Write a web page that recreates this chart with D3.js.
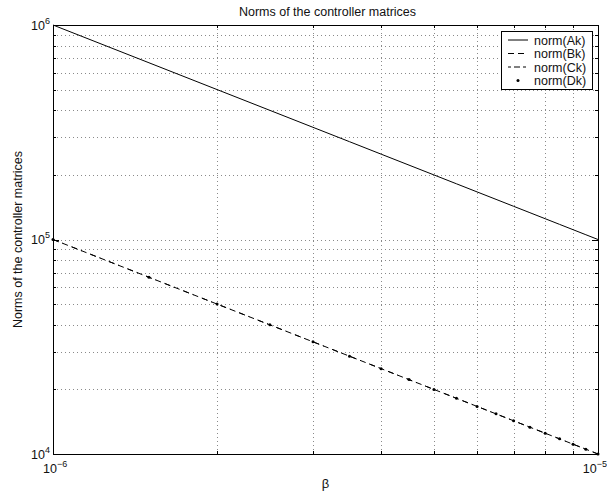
<!DOCTYPE html>
<html>
<head>
<meta charset="utf-8">
<script src="https://cdn.jsdelivr.net/npm/d3@7"></script>
<style>
  body { margin: 0; background: #fff; }
  svg { display: block; font-family: "Liberation Sans", Arial, Helvetica, sans-serif; }
</style>
</head>
<body>
<svg id="chart" width="607" height="494"></svg>
<script>
// Sample points of the design parameter beta
const beta = [1e-6, 1.5e-6, 2e-6, 2.5e-6, 3e-6, 3.5e-6, 4e-6, 4.5e-6, 5e-6, 5.5e-6,
              6e-6, 6.5e-6, 7e-6, 7.5e-6, 8e-6, 8.5e-6, 9e-6, 9.5e-6, 1e-5];

// Norms of the controller matrices at each beta
const normAk = [1000000, 666667, 500000, 400000, 333333, 285714, 250000, 222222, 200000, 181818,
                166667, 153846, 142857, 133333, 125000, 117647, 111111, 105263, 100000];
const normBk = [100000, 66667, 50000, 40000, 33333, 28571, 25000, 22222, 20000, 18182,
                16667, 15385, 14286, 13333, 12500, 11765, 11111, 10526, 10000];
const normCk = [100000, 66667, 50000, 40000, 33333, 28571, 25000, 22222, 20000, 18182,
                16667, 15385, 14286, 13333, 12500, 11765, 11111, 10526, 10000];
const normDk = [100000, 66667, 50000, 40000, 33333, 28571, 25000, 22222, 20000, 18182,
                16667, 15385, 14286, 13333, 12500, 11765, 11111, 10526, 10000];

const seriesNames = ["norm(Ak)", "norm(Bk)", "norm(Ck)", "norm(Dk)"];

// Axis tick values (decades) and their exponents
const xMajor = [1e-6, 1e-5];
const xMajorExp = ["-6", "-5"];
const yMajor = [1e4, 1e5, 1e6];
const yMajorExp = ["4", "5", "6"];

const title = "Norms of the controller matrices";
const xLabel = "β";
const yLabel = "Norms of the controller matrices";

const FS = 12.5;
const svg = d3.select("#chart");
const m = { left: 53, right: 598, top: 25, bottom: 454 };

const x = d3.scaleLog().domain([1e-6, 1e-5]).range([m.left, m.right]);
const y = d3.scaleLog().domain([1e4, 1e6]).range([m.bottom, m.top]);

const xMinor = x.ticks().filter(v => !xMajor.some(t => Math.abs(t - v) / t < 1e-9));
const yMinor = y.ticks().filter(v => !yMajor.some(t => Math.abs(t - v) / t < 1e-9));

// Dotted grid at every decade and sub-decade
const grid = svg.append("g").attr("stroke", "#8a8a8a").attr("stroke-width", 1)
  .attr("stroke-dasharray", "1,3");
x.ticks().forEach(v => {
  const px = Math.round(x(v)) + 0.5;
  if (v > 1e-6 && v < 1e-5)
    grid.append("line").attr("x1", px).attr("x2", px).attr("y1", m.top).attr("y2", m.bottom);
});
y.ticks().forEach(v => {
  const py = Math.round(y(v)) + 0.5;
  if (v > 1e4 && v < 1e6)
    grid.append("line").attr("x1", m.left).attr("x2", m.right).attr("y1", py).attr("y2", py);
});

// Ticks pointing inward on all four sides
const ticks = svg.append("g").attr("stroke", "#000").attr("stroke-width", 1);
function xTick(v, len) {
  const px = Math.round(x(v)) + 0.5;
  ticks.append("line").attr("x1", px).attr("x2", px).attr("y1", m.bottom).attr("y2", m.bottom - len);
  ticks.append("line").attr("x1", px).attr("x2", px).attr("y1", m.top).attr("y2", m.top + len);
}
function yTick(v, len) {
  const py = Math.round(y(v)) + 0.5;
  ticks.append("line").attr("x1", m.left).attr("x2", m.left + len).attr("y1", py).attr("y2", py);
  ticks.append("line").attr("x1", m.right).attr("x2", m.right - len).attr("y1", py).attr("y2", py);
}
xMinor.forEach(v => xTick(v, 3));
xMajor.forEach(v => xTick(v, 6));
yMinor.forEach(v => yTick(v, 3));
yMajor.forEach(v => yTick(v, 6));

// Data lines (the dash-dot pattern of Ck shares the period of the Bk dashes)
const line = d3.line().x((d, i) => x(beta[i])).y(d => y(d));
const plot = svg.append("g").attr("fill", "none").attr("stroke", "#000").attr("stroke-width", 1);
plot.append("path").attr("d", line(normAk));
plot.append("path").attr("d", line(normBk)).attr("stroke-dasharray", "6,4");
plot.append("path").attr("d", line(normCk)).attr("stroke-dasharray", "6,4,1,9");
svg.append("g").selectAll("circle").data(normDk).join("circle")
  .attr("cx", (d, i) => x(beta[i])).attr("cy", d => y(d)).attr("r", 1.5).attr("fill", "#000");

// Axes box
svg.append("rect").attr("x", m.left + 0.5).attr("y", m.top + 0.5)
  .attr("width", m.right - m.left).attr("height", m.bottom - m.top)
  .attr("fill", "none").attr("stroke", "#000").attr("stroke-width", 1);

// Tick labels with superscript exponents
function powLabel(g, px, py, exp, anchor) {
  const t = g.append("text").attr("x", px).attr("y", py).attr("font-size", FS)
    .attr("text-anchor", anchor).attr("fill", "#111");
  t.append("tspan").text("10");
  t.append("tspan").attr("font-size", 9).attr("dy", -6).text(exp.replace("-", "\u2212"));
}
const labels = svg.append("g");
yMajor.forEach((v, i) => powLabel(labels, m.left - 3, y(v) + 4.5, yMajorExp[i], "end"));
powLabel(labels, x(xMajor[0]) - 10, m.bottom + 19, xMajorExp[0], "start");
powLabel(labels, 607, m.bottom + 19, xMajorExp[1], "end");

// Titles
svg.append("text").attr("x", (m.left + m.right) / 2 + 2).attr("y", 16).attr("text-anchor", "middle")
  .attr("font-size", FS).attr("fill", "#111").text(title);
svg.append("text").attr("x", (m.left + m.right) / 2).attr("y", 488).attr("text-anchor", "middle")
  .attr("font-size", 13).attr("fill", "#111").text(xLabel);
svg.append("text").attr("transform", `translate(22,${(m.top + m.bottom) / 2}) rotate(-90)`)
  .attr("text-anchor", "middle").attr("font-size", FS).attr("fill", "#111").text(yLabel);

// Legend
const lg = svg.append("g");
lg.append("rect").attr("x", 501.5).attr("y", 31.5).attr("width", 91).attr("height", 58)
  .attr("fill", "#fff").attr("stroke", "#000").attr("stroke-width", 1);
const dashes = [null, "6,4", "3,3,6,3", null];
seriesNames.forEach((name, i) => {
  const cy = 40 + i * 13.5;
  if (i < 3) {
    lg.append("line").attr("x1", 508).attr("x2", 528).attr("y1", cy).attr("y2", cy)
      .attr("stroke", "#000").attr("stroke-width", 1)
      .attr("stroke-dasharray", dashes[i]);
  } else {
    lg.append("circle").attr("cx", 518).attr("cy", cy).attr("r", 1.5).attr("fill", "#000");
  }
  lg.append("text").attr("x", 534).attr("y", cy + 4.5).attr("font-size", FS).attr("fill", "#111").text(name);
});
</script>
</body>
</html>
